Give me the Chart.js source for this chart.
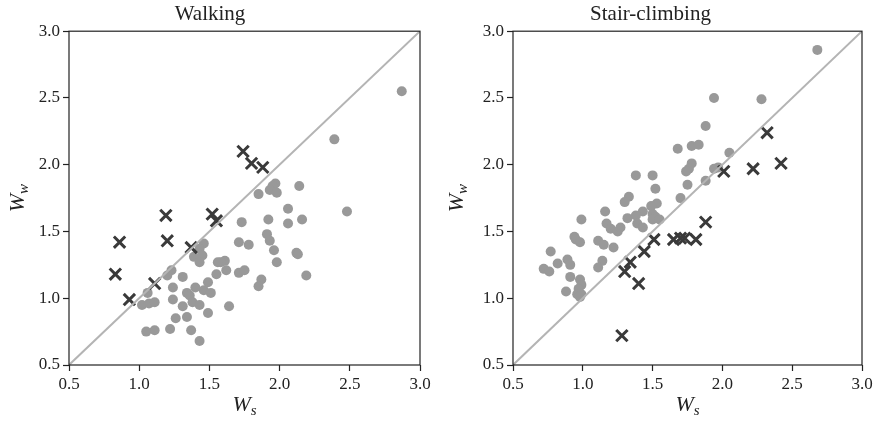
<!DOCTYPE html>
<html lang="en">
<head>
    <meta charset="UTF-8">
    <title>Walking vs Stair-climbing</title>
    <style>
        body {
            margin: 0;
            padding: 0;
            background: #ffffff;
        }
        .panel {
            position: absolute;
            top: 0;
            width: 439px;
            height: 422px;
        }
        #left { left: 0; }
        #right { left: 439px; }
    </style>
    <script src="https://cdn.jsdelivr.net/npm/chart.js"></script>
</head>
<body>
    <div class="panel" id="left"><canvas id="walkChart"></canvas></div>
    <div class="panel" id="right"><canvas id="stairChart"></canvas></div>

    <script>
        // axis ticks (same for both panels)
        const tickValues = [0.5, 1.0, 1.5, 2.0, 2.5, 3.0];
        const axisMin = 0.5;
        const axisMax = 3.0;

        // Walking panel: grey circles
        const walkCircleWs = [2.87, 2.39, 2.48, 1.97, 1.95, 1.93, 1.98, 1.85, 2.14, 2.06, 2.06, 2.16, 1.92, 1.73,
            1.91, 1.93, 1.96, 1.98, 2.12, 2.13, 2.19, 1.71, 1.78, 1.71, 1.75, 1.87, 1.85, 1.64, 1.61, 1.58, 1.56,
            1.62, 1.55, 1.46, 1.43, 1.39, 1.45, 1.43, 1.49, 1.46, 1.51, 1.40, 1.34, 1.36, 1.38, 1.43, 1.49, 1.31,
            1.23, 1.20, 1.24, 1.24, 1.31, 1.34, 1.26, 1.22, 1.37, 1.43, 1.11, 1.05, 1.06, 1.02, 1.07, 1.11];
        const walkCircleWw = [2.55, 2.19, 1.65, 1.86, 1.84, 1.81, 1.79, 1.78, 1.84, 1.67, 1.56, 1.59, 1.59, 1.57,
            1.48, 1.43, 1.36, 1.27, 1.34, 1.33, 1.17, 1.42, 1.40, 1.19, 1.21, 1.14, 1.09, 0.94, 1.28, 1.27, 1.27,
            1.21, 1.18, 1.41, 1.37, 1.31, 1.32, 1.27, 1.12, 1.06, 1.04, 1.08, 1.04, 1.02, 0.97, 0.95, 0.89, 1.16,
            1.21, 1.17, 1.08, 0.99, 0.94, 0.86, 0.85, 0.77, 0.76, 0.68, 0.76, 0.75, 1.04, 0.95, 0.96, 0.97];
        // Walking panel: dark crosses
        const walkCrossWs = [1.74, 1.80, 1.88, 1.19, 1.52, 1.55, 0.86, 1.20, 1.37, 0.83, 1.11, 0.93];
        const walkCrossWw = [2.10, 2.01, 1.98, 1.62, 1.63, 1.58, 1.42, 1.43, 1.38, 1.18, 1.11, 0.99];

        // Stair-climbing panel: grey circles
        const stairCircleWs = [2.68, 1.94, 2.28, 1.88, 1.68, 1.78, 1.83, 2.05, 1.78, 1.76, 1.74, 1.94, 1.97, 1.88,
            1.75, 1.70, 1.38, 1.50, 1.52, 1.53, 1.33, 1.30, 1.49, 1.43, 1.16, 1.38, 1.32, 1.50, 1.52, 1.50, 1.55,
            1.39, 1.43, 1.17, 1.20, 1.25, 1.27, 0.99, 0.94, 0.95, 0.98, 1.11, 1.15, 1.22, 1.14, 1.11, 0.77, 0.82,
            0.72, 0.76, 0.89, 0.91, 0.91, 0.98, 0.99, 0.97, 0.96, 0.99, 0.98, 0.88];
        const stairCircleWw = [2.86, 2.50, 2.49, 2.29, 2.12, 2.14, 2.15, 2.09, 2.01, 1.97, 1.95, 1.97, 1.98, 1.88,
            1.85, 1.75, 1.92, 1.92, 1.82, 1.71, 1.76, 1.72, 1.69, 1.65, 1.65, 1.62, 1.60, 1.63, 1.61, 1.59, 1.59,
            1.56, 1.53, 1.56, 1.52, 1.50, 1.53, 1.59, 1.46, 1.44, 1.42, 1.43, 1.40, 1.38, 1.28, 1.23, 1.35, 1.26,
            1.22, 1.20, 1.29, 1.25, 1.16, 1.14, 1.10, 1.07, 1.03, 1.03, 1.01, 1.05];
        // Stair-climbing panel: dark crosses
        const stairCrossWs = [2.32, 2.42, 2.22, 2.01, 1.88, 1.81, 1.73, 1.70, 1.65, 1.51, 1.44, 1.34, 1.30, 1.40, 1.28];
        const stairCrossWw = [2.24, 2.01, 1.97, 1.95, 1.57, 1.44, 1.45, 1.45, 1.44, 1.44, 1.35, 1.27, 1.20, 1.11, 0.72];

        const FONT = "'Liberation Serif', 'DejaVu Serif', serif";

        function toPoints(xs, ys) {
            return xs.map((x, i) => ({ x: x, y: ys[i] }));
        }

        // draws the box around the plot and the W_s / W_w axis labels
        const framePlugin = {
            id: 'frame',
            afterDatasetsDraw(chart) {
                const a = chart.chartArea;
                const ctx = chart.ctx;
                ctx.save();
                ctx.strokeStyle = '#222222';
                ctx.lineWidth = 1.2;
                ctx.strokeRect(a.left, a.top, a.right - a.left, a.bottom - a.top);
                ctx.restore();
            },
            afterDraw(chart) {
                const a = chart.chartArea;
                const ctx = chart.ctx;
                ctx.save();
                ctx.fillStyle = '#222222';
                ctx.textBaseline = 'alphabetic';
                // x label W_s
                const cx = (a.left + a.right) / 2;
                ctx.font = 'italic 22px ' + FONT;
                const wW = ctx.measureText('W').width;
                ctx.font = 'italic 15px ' + FONT;
                const sW = ctx.measureText('s').width;
                let x0 = cx - (wW + sW) / 2;
                ctx.font = 'italic 22px ' + FONT;
                ctx.fillText('W', x0, 411);
                ctx.font = 'italic 15px ' + FONT;
                ctx.fillText('s', x0 + wW, 415);
                // y label W_w (rotated)
                const cy = (a.top + a.bottom) / 2;
                ctx.translate(24, cy);
                ctx.rotate(-Math.PI / 2);
                ctx.font = 'italic 15px ' + FONT;
                const subW = ctx.measureText('w').width;
                x0 = -(wW + subW) / 2;
                ctx.font = 'italic 22px ' + FONT;
                ctx.fillText('W', x0, 0);
                ctx.font = 'italic 15px ' + FONT;
                ctx.fillText('w', x0 + wW, 4);
                ctx.restore();
            }
        };

        function makeChart(canvasId, title, circleX, circleY, crossX, crossY, yAxisWidth, padRight) {
            const axisCommon = {
                type: 'linear',
                min: axisMin,
                max: axisMax,
                afterBuildTicks: (scale) => {
                    scale.ticks = tickValues.map(v => ({ value: v }));
                },
                grid: {
                    display: true,
                    drawOnChartArea: false,
                    drawTicks: true,
                    tickLength: 6,
                    tickWidth: 1.2,
                    tickColor: '#222222'
                },
                border: { display: false },
                ticks: {
                    color: '#222222',
                    font: { family: FONT, size: 17 },
                    padding: 3,
                    callback: (v) => v.toFixed(1),
                    maxRotation: 0,
                    autoSkip: false
                }
            };
            return new Chart(document.getElementById(canvasId), {
                type: 'scatter',
                data: {
                    datasets: [
                        {
                            type: 'line',
                            label: 'identity',
                            data: [{ x: axisMin, y: axisMin }, { x: axisMax, y: axisMax }],
                            borderColor: '#b4b4b4',
                            borderWidth: 2,
                            pointRadius: 0,
                            fill: false,
                            order: 0
                        },
                        {
                            label: 'circles',
                            data: toPoints(circleX, circleY),
                            backgroundColor: '#999999',
                            borderColor: '#999999',
                            borderWidth: 0,
                            pointRadius: 5,
                            pointStyle: 'circle',
                            order: 2
                        },
                        {
                            label: 'crosses',
                            data: toPoints(crossX, crossY),
                            borderColor: '#3a3a3a',
                            backgroundColor: '#3a3a3a',
                            borderWidth: 3,
                            pointRadius: 8,
                            pointStyle: 'crossRot',
                            order: 1
                        }
                    ]
                },
                options: {
                    responsive: true,
                    maintainAspectRatio: false,
                    animation: false,
                    layout: { padding: { left: 0, right: padRight, top: 0, bottom: 0 } },
                    plugins: {
                        legend: { display: false },
                        tooltip: { enabled: false },
                        title: {
                            display: true,
                            text: title,
                            color: '#222222',
                            font: { family: FONT, size: 21, weight: 'normal' },
                            padding: { top: 2, bottom: 4 }
                        }
                    },
                    scales: {
                        x: Object.assign({}, axisCommon, {
                            position: 'bottom',
                            afterFit: (s) => { s.height = 57; }
                        }),
                        y: Object.assign({}, axisCommon, {
                            position: 'left',
                            afterFit: (s) => { s.width = yAxisWidth; }
                        })
                    }
                },
                plugins: [framePlugin]
            });
        }

        makeChart('walkChart', 'Walking', walkCircleWs, walkCircleWw, walkCrossWs, walkCrossWw, 69, 19);
        makeChart('stairChart', 'Stair-climbing', stairCircleWs, stairCircleWw, stairCrossWs, stairCrossWw, 74, 16);
    </script>
</body>
</html>
